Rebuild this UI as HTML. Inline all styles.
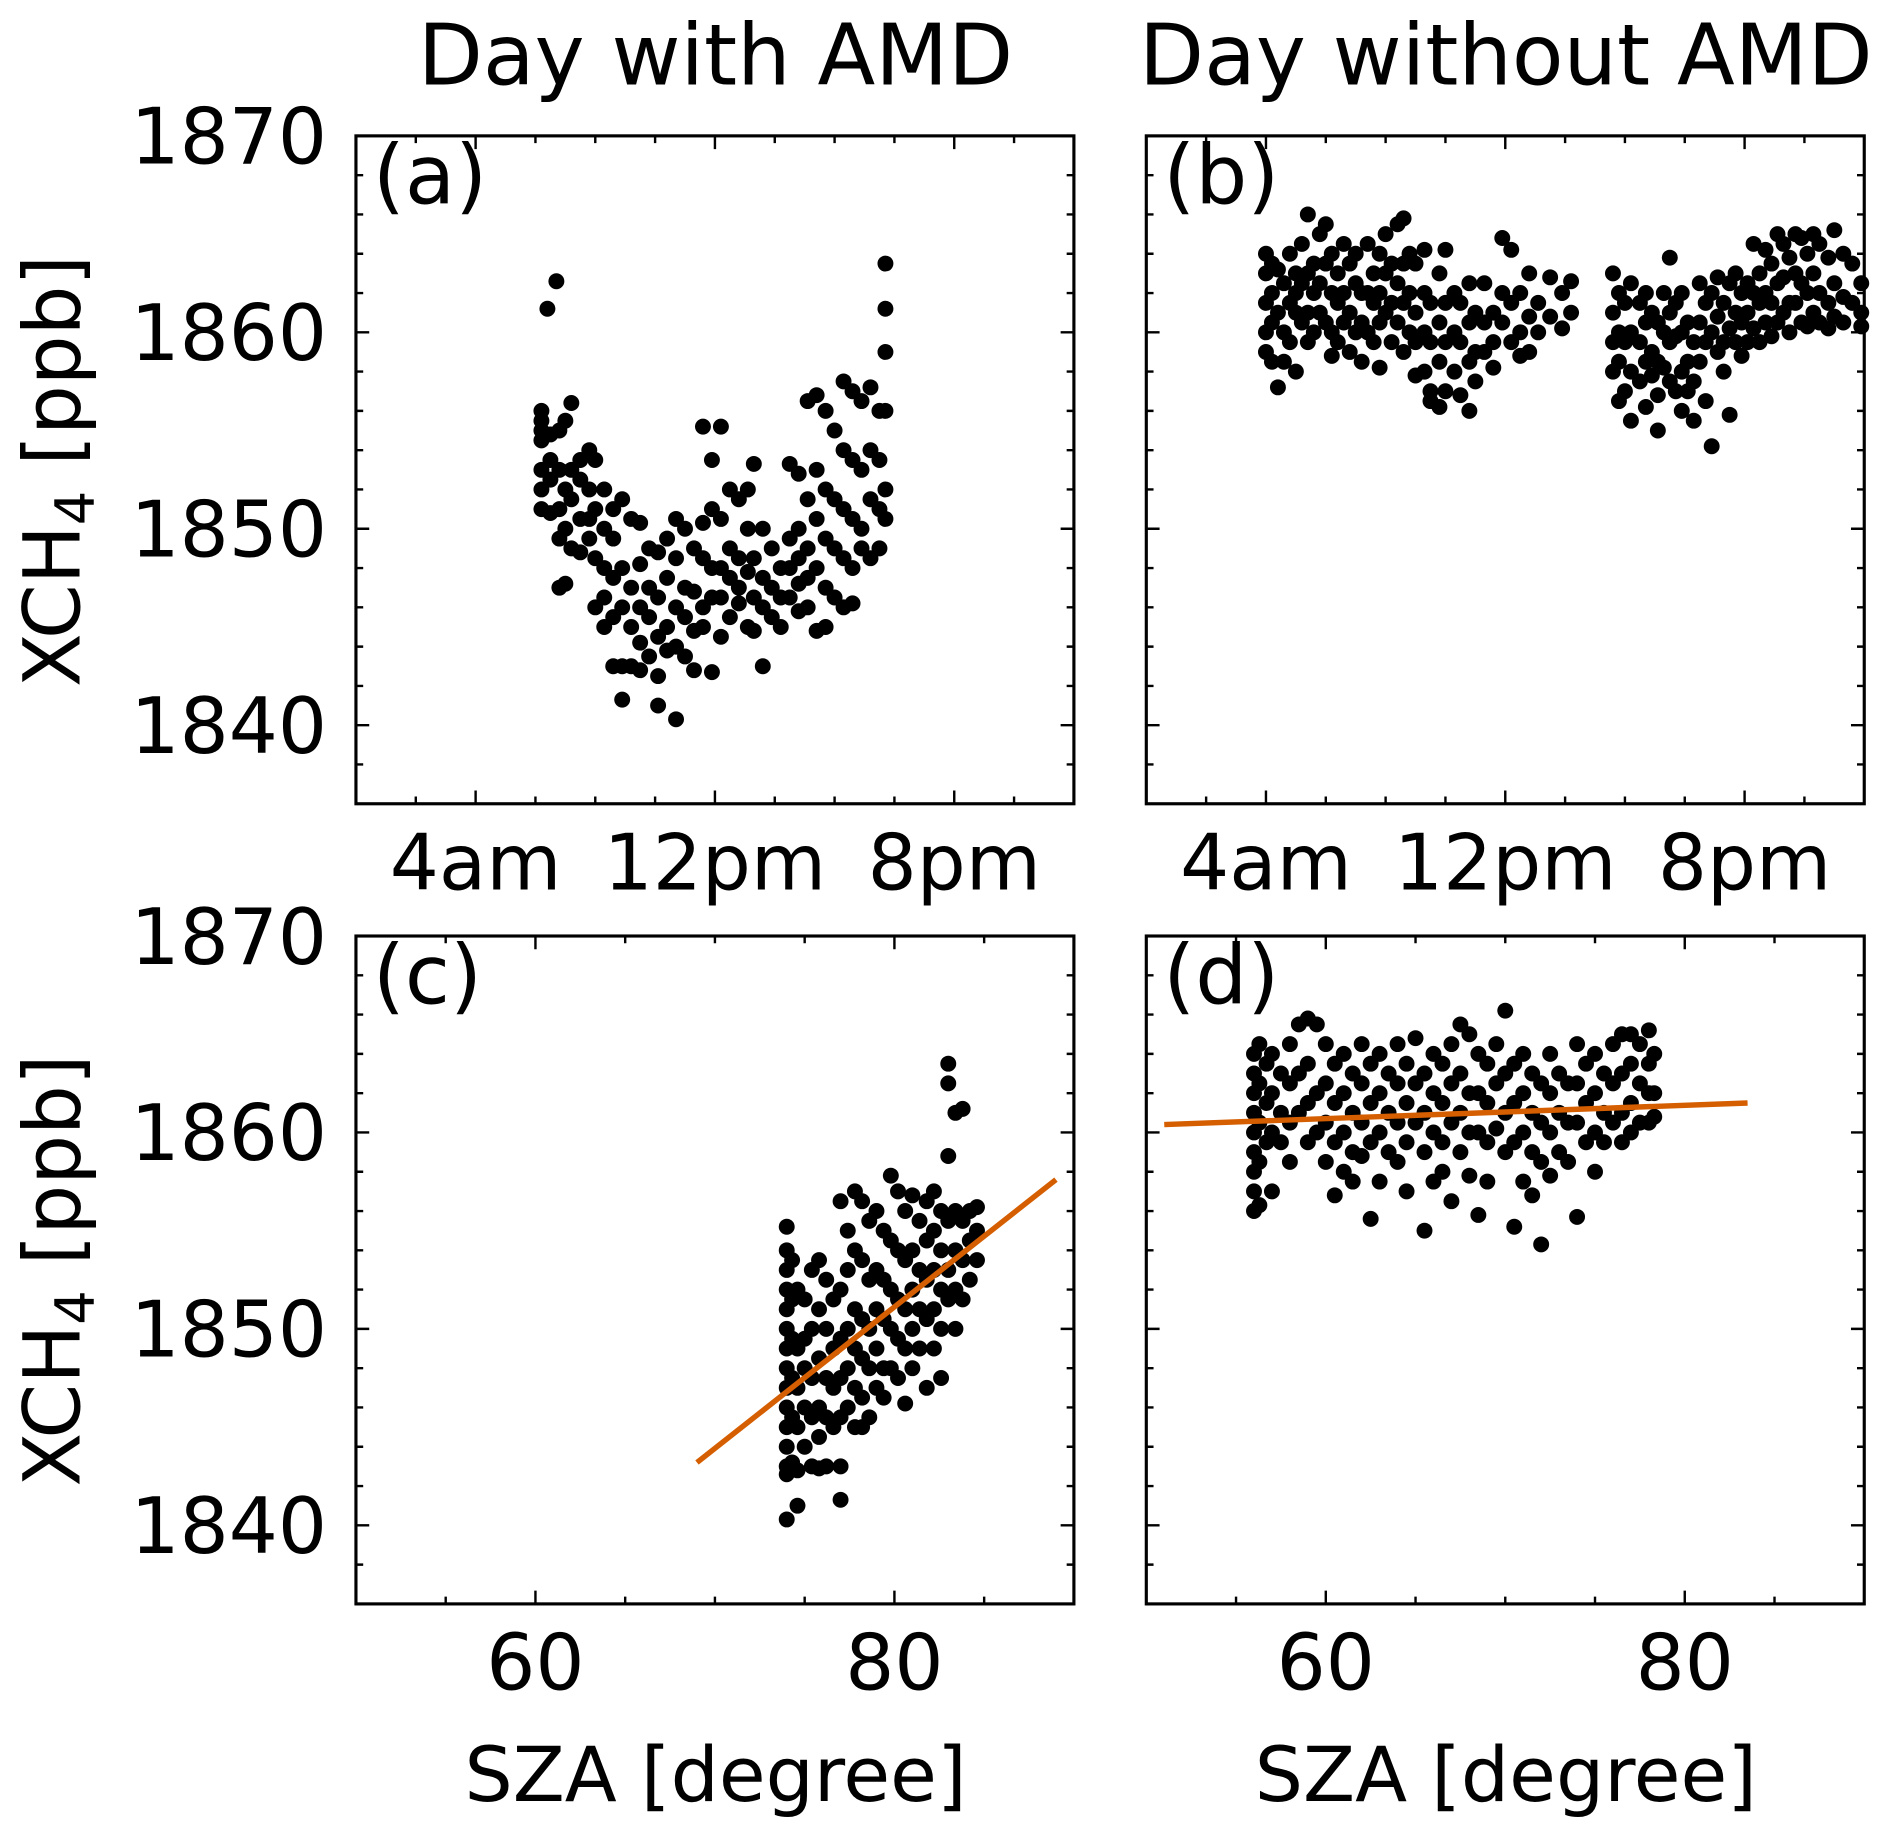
<!DOCTYPE html>
<html><head><meta charset="utf-8"><style>
html,body{margin:0;padding:0;background:#fff}
svg{display:block}
text{font-family:"DejaVu Sans","Liberation Sans",sans-serif;fill:#000}
</style></head><body>
<svg id="fig" width="1892" height="1837" viewBox="0 0 1568 1521" preserveAspectRatio="none" xmlns="http://www.w3.org/2000/svg">
<text x="593" y="70" font-size="70" text-anchor="middle">Day with AMD</text>
<text x="1248" y="70" font-size="70" text-anchor="middle">Day without AMD</text>
<text transform="translate(66,390) rotate(-90)" font-size="65" text-anchor="middle">XCH<tspan font-size="45" dy="12">4</tspan><tspan dy="-12"> [ppb]</tspan></text>
<text transform="translate(66,1052) rotate(-90)" font-size="65" text-anchor="middle">XCH<tspan font-size="45" dy="12">4</tspan><tspan dy="-12"> [ppb]</tspan></text>
<text x="593" y="1491" font-size="63" text-anchor="middle">SZA [degree]</text>
<text x="1248" y="1491" font-size="63" text-anchor="middle">SZA [degree]</text>
</svg>
<script>
// ---- data ----
const aGroups = [[6.2,[1856,1855,1854.5,1853,1852,1851,1855.5]],[6.4,[1861.2]],[6.7,[1862.6]],[6.5,[1853.5,1852.5,1850.8,1854.8]],[6.8,[1855,1853,1851,1849.5,1847]],[7.0,[1855.5,1852,1850,1847.2]],[7.2,[1856.4,1853,1851.5,1849]],[7.5,[1852.5,1850.5,1848.8,1853.5]],[7.8,[1854,1852,1850.5,1849.5]],[8.0,[1853.5,1851,1848.5,1846]],[8.3,[1852,1850,1848,1846.5,1845]],[8.6,[1851,1849.5,1847.5,1843,1845.5]],[8.9,[1851.5,1848,1846,1843,1841.3]],[9.2,[1850.5,1847,1845,1843]],[9.5,[1850.3,1848.2,1846,1844.2,1842.8]],[9.8,[1849,1847,1845.5,1843.5]],[10.1,[1848.8,1846.5,1844.5,1842.5,1841]],[10.4,[1849.5,1847.5,1845,1843.8]],[10.7,[1850.5,1848.5,1846,1844,1840.3]],[11.0,[1850,1847,1845.5,1843.5]],[11.3,[1849,1846.8,1844.8,1842.8]],[11.6,[1850.3,1848.5,1846,1845,1855.2]],[11.9,[1851,1848,1846.5,1842.7,1853.5]],[12.2,[1855.2,1850.5,1848,1846.5,1844.5]],[12.5,[1852,1849,1847.5,1845.5]],[12.8,[1851.5,1848.5,1847,1846.2]],[13.1,[1852,1850,1847.8,1845]],[13.3,[1853.3,1848.5,1846.5,1844.8]],[13.6,[1850,1847.5,1846,1843]],[13.9,[1849,1847,1845.5]],[14.2,[1848,1846.5,1845]],[14.5,[1853.3,1849.5,1848,1846.5]],[14.8,[1852.8,1850,1848.5,1847.2,1845.8]],[15.1,[1856.5,1851.5,1849,1847.5,1846]],[15.4,[1856.8,1853,1850.5,1848,1844.8]],[15.7,[1856,1852,1849.5,1847,1845]],[16.0,[1855,1851.5,1849,1846.5]],[16.3,[1857.5,1854,1851,1848.5,1846]],[16.6,[1857,1853.5,1850.5,1848,1846.2]],[16.9,[1856.5,1853,1850,1849]],[17.2,[1857.2,1854,1851.5,1848.5]],[17.5,[1856,1853.5,1851,1849]],[17.7,[1863.5,1861.2,1859,1856,1852,1850.5]]];
const bGroups = [[4.0,[1864,1863,1861.5,1860,1859]],[4.2,[1863.5,1862,1860.5,1858.5]],[4.4,[1857.2,1861,1863.2]],[4.6,[1862.5,1860,1858.5]],[4.8,[1864,1861.5,1859.5]],[5.0,[1863,1861,1858,1862]],[5.2,[1864.5,1862.5,1860.5]],[5.4,[1866,1863,1861,1859.5]],[5.6,[1863.5,1862,1860]],[5.8,[1865,1862.5,1861]],[6.0,[1865.5,1863.5,1860.5]],[6.2,[1864,1862,1860,1858.8]],[6.4,[1863,1861.5,1859.5]],[6.6,[1864.5,1862,1860.5]],[6.8,[1863.5,1861,1859]],[7.0,[1864,1862.5,1860]],[7.2,[1862,1860.5,1858.5]],[7.4,[1864.5,1862,1860]],[7.6,[1863,1861.5,1859.5]],[7.8,[1864,1862,1860.5,1858.2]],[8.0,[1865,1863,1861]],[8.2,[1863.5,1861.5,1859.5]],[8.4,[1865.5,1862.5,1860.5]],[8.6,[1865.8,1863.5,1861.5,1859]],[8.8,[1864,1862,1860]],[9.0,[1863.5,1861,1859.5,1857.8]],[9.3,[1864.2,1862,1860,1858]],[9.5,[1861.5,1859.5,1857,1856.5]],[9.8,[1863,1860.5,1858.5,1856.2]],[10.0,[1864.2,1861.5,1859.5,1857]],[10.3,[1862,1860,1858]],[10.5,[1861.5,1859.5,1856.8]],[10.8,[1862.5,1860.5,1858.5,1856]],[11.0,[1861,1859,1857.5]],[11.3,[1862.5,1860.5,1859]],[11.6,[1861,1859.5,1858.2]],[11.9,[1864.8,1862,1860.5]],[12.2,[1864.2,1861.5,1859.5]],[12.5,[1862,1860,1858.8]],[12.8,[1863,1860.8,1859]],[13.1,[1861.5,1860]],[13.5,[1862.8,1860.8]],[13.9,[1862,1860.2]],[14.2,[1862.6,1861]],[15.6,[1863,1861,1859.5,1858]],[15.8,[1862,1860,1858.5,1856.5]],[16.0,[1861.5,1859.5,1857]],[16.2,[1862.5,1860,1858,1855.5]],[16.5,[1861.5,1859.5,1857.5]],[16.7,[1862,1860.5,1858.5,1856.2]],[16.9,[1861,1859,1857.8]],[17.1,[1860.5,1858.5,1856.8,1855]],[17.3,[1862,1860,1858.2]],[17.5,[1863.8,1861,1859.5,1857.5]],[17.7,[1861.5,1859.8,1857]],[17.9,[1862,1860,1858,1856]],[18.1,[1860.5,1858.5,1857]],[18.3,[1859.5,1857.5,1855.5]],[18.5,[1862.5,1860.5,1858.5]],[18.7,[1861.5,1859.5,1856.5]],[18.9,[1862,1860,1854.2]],[19.1,[1862.8,1860.8,1859]],[19.3,[1861.5,1859.5,1858]],[19.5,[1862.5,1860.2,1855.8]],[19.7,[1863,1861,1859.5]],[19.9,[1862,1860.5,1858.8]],[20.1,[1862.5,1861,1859.5]],[20.3,[1864.5,1862,1860.2]],[20.5,[1863,1861.5,1859.5]],[20.7,[1864.2,1862,1860.5]],[20.9,[1863.5,1861.5,1859.8]],[21.1,[1865,1862.5,1860.5]],[21.3,[1864.5,1862.8,1861]],[21.5,[1863.8,1861.5,1860]],[21.7,[1865,1863,1861.5]],[21.9,[1864.8,1862.5,1860.5]],[22.1,[1864,1862,1860.3]],[22.3,[1865,1863,1861]],[22.5,[1864.5,1862,1860.5]],[22.8,[1863.8,1861.5,1860.2]],[23.0,[1865.2,1862.5,1860.8]],[23.3,[1864,1861.8,1860.5]],[23.6,[1863.5,1861.5]],[23.9,[1862.5,1861,1860.3]]];
const cGroups = [[74.0,[1855.2,1854,1853,1852,1851,1850,1849,1848,1847,1846,1845,1844,1843,1842.6,1840.3]],[74.3,[1853.5,1851.5,1849.5,1847.5,1845.5,1843.2]],[74.6,[1852,1849,1847,1845,1842.8,1841]],[75,[1851.5,1849.5,1848,1846,1844]],[75.4,[1853,1850,1847.5,1845.5,1843]],[75.8,[1853.5,1851,1848.5,1846,1844.5,1842.9]],[76.2,[1852.5,1850,1847.5,1845.5,1843]],[76.6,[1851.5,1849,1847,1845]],[77,[1856.5,1852,1849.5,1847.5,1845.5,1841.3,1843]],[77.4,[1855,1853,1850,1848,1846]],[77.8,[1857,1854,1851,1849,1847,1845]],[78.2,[1856.5,1853.5,1850.5,1848.5,1846.5,1845]],[78.6,[1855.5,1852.5,1850,1848,1845.5]],[79,[1856,1853,1851,1849,1847]],[79.4,[1855,1852.5,1850.5,1848,1846.5]],[79.8,[1857.8,1854.5,1852,1850,1848]],[80.2,[1857,1854,1851.5,1849.5,1847.5]],[80.6,[1856,1853.5,1851,1849,1846.2]],[81,[1856.8,1854,1852,1850,1848]],[81.4,[1855.5,1853,1851,1849]],[81.8,[1856.5,1854.5,1852.5,1850.5,1847]],[82.2,[1857,1855,1853,1851,1849]],[82.6,[1856,1854,1852,1850,1847.5]],[83,[1863.5,1862.5,1858.8,1855.5,1853,1851.5]],[83.4,[1861,1856,1854,1852,1850]],[83.8,[1861.2,1855.5,1853.5,1851.5]],[84.2,[1856,1854.5,1852.5]],[84.6,[1856.2,1855,1853.5]]];
const dGroups = [[56.0,[1864,1863,1862,1861,1860,1859,1858,1857,1856]],[56.3,[1864.5,1862.5,1860.5,1858.5,1856.3]],[56.7,[1863.5,1861.5,1859.5]],[57.0,[1864,1862,1860,1857]],[57.5,[1863,1861,1859.5]],[58.0,[1864.5,1862.5,1860.5,1858.5]],[58.5,[1865.5,1863,1861]],[59.0,[1865.8,1863.5,1861.5,1859.5]],[59.5,[1865.5,1862,1860]],[60,[1864.5,1862.5,1860.5,1858.5]],[60.5,[1863.5,1861.5,1859.5,1856.8]],[61,[1864,1862,1860,1858]],[61.5,[1863,1861,1859,1857.5]],[62,[1864.5,1862.5,1860.5,1858.8]],[62.5,[1863.5,1861.5,1859.5,1855.6]],[63,[1864,1862,1860,1857.5]],[63.5,[1863,1861,1859]],[64,[1864.5,1862.5,1860.5,1858.5]],[64.5,[1863.5,1861.5,1859.5,1857]],[65,[1864.8,1862.5,1860.5]],[65.5,[1863,1861,1859,1855]],[66,[1864,1862,1860,1857.5]],[66.5,[1863.5,1861.5,1859.5,1858]],[67,[1864.5,1862.5,1860.5,1856.5]],[67.5,[1865.5,1863,1861,1859]],[68,[1865,1862,1860,1857.8]],[68.5,[1864,1862,1860,1855.8]],[69,[1863.5,1861.5,1859.5,1857.5]],[69.5,[1864.5,1862.5,1860.2]],[70,[1866.2,1863,1861,1859]],[70.5,[1863.5,1861.5,1859.5,1855.2]],[71,[1864,1862,1860,1857.5]],[71.5,[1863,1861,1859,1856.8]],[72,[1862.5,1860.5,1858.5,1854.3]],[72.5,[1864,1862,1860,1857.8]],[73,[1863,1861,1859]],[73.5,[1862.5,1860.5,1858.5]],[74,[1864.5,1862.5,1860.5,1855.7]],[74.5,[1863.5,1861.5,1859.5]],[75,[1864,1862,1860,1858]],[75.5,[1863,1861,1859.5]],[76,[1864.5,1862.5,1860.5]],[76.5,[1865,1863,1861,1859.5]],[77,[1865,1863.5,1861.5,1860]],[77.5,[1864.5,1862.5,1860.5]],[78,[1865.2,1863.5,1862,1860.5]],[78.3,[1864,1862,1860.8]]];
const cFitX = [69, 89];
const cFitY = [1843.2, 1857.6];
const dFitX = [51, 83.5];
const dFitY = [1860.4, 1861.5];
const yTicks = [1840, 1850, 1860, 1870];
const timeTicks = [4, 12, 20];
const timeLabels = ["4am", "12pm", "8pm"];
const szaTicks = [60, 80];

const NS = "http://www.w3.org/2000/svg";
const svg = document.getElementById('fig');
function mk(tag, attrs, parent) {
  const e = document.createElementNS(NS, tag);
  for (const k in attrs) e.setAttribute(k, attrs[k]);
  (parent || svg).appendChild(e);
  return e;
}
function panel(id, L, T, xmin, xmax, xMajor, xMinorStep, xLabels, groups, fitX, fitY, letter, showY) {
  const R = L + 595, B = T + 553;
  const sx = v => L + (v - xmin) / (xmax - xmin) * (R - L);
  const sy = v => B - (v - 1836) / (1870 - 1836) * (B - T);
  const g = mk('g', {});
  
  
  for (const [x, vals] of groups) {
    for (const v of vals) {
      const c = mk('circle', {cx: sx(x), cy: sy(v), r: 6.6, fill: '#000'}, g);
      
      
    }
  }
  if (fitX) {
    const l = mk('line', {x1: sx(fitX[0]), y1: sy(fitY[0]), x2: sx(fitX[1]), y2: sy(fitY[1]), stroke: '#d55e00', 'stroke-width': 4.5}, g);
    
    
  }
  const tk = [];
  for (let v = 1836; v <= 1870; v += 2) {
    const major = v % 10 === 0, len = major ? 11 : 6;
    tk.push(`M${L},${sy(v)}h${len}M${R},${sy(v)}h${-len}`);
  }
  for (let v = xmin + xMinorStep; v < xmax; v += xMinorStep) {
    const major = xMajor.includes(v), len = major ? 11 : 6;
    tk.push(`M${sx(v)},${B}v${-len}M${sx(v)},${T}v${len}`);
  }
  const tp = mk('path', {d: tk.join(''), stroke: '#000', 'stroke-width': 2, fill: 'none'}, g);
  
  
  const fr = mk('rect', {x: L, y: T, width: R - L, height: B - T, fill: 'none', stroke: '#000', 'stroke-width': 2.6}, g);
  
  
  if (showY) {
    yTicks.forEach(v => {
      const t = mk('text', {x: L - 24, y: sy(v) + 23, 'font-size': 64, 'text-anchor': 'end'}, g);
      
      
      t.textContent = v;
    });
  }
  xMajor.forEach((v, i) => {
    const t = mk('text', {x: sx(v), y: B + 71, 'font-size': 64, 'text-anchor': 'middle'}, g);
    
    
    t.textContent = xLabels[i];
  });
  const pl = mk('text', {x: L + 14, y: T + 56, 'font-size': 68}, g);
  
  
  pl.textContent = letter;
}
panel('a', 295, 112.5, 0, 24, timeTicks, 2, timeLabels, aGroups, null, null, '(a)', true);
panel('b', 950, 112.5, 0, 24, timeTicks, 2, timeLabels, bGroups, null, null, '(b)', false);
panel('c', 295, 775, 50, 90, szaTicks, 5, szaTicks.map(String), cGroups, cFitX, cFitY, '(c)', true);
panel('d', 950, 775, 50, 90, szaTicks, 5, szaTicks.map(String), dGroups, dFitX, dFitY, '(d)', false);
</script>
</body></html>
